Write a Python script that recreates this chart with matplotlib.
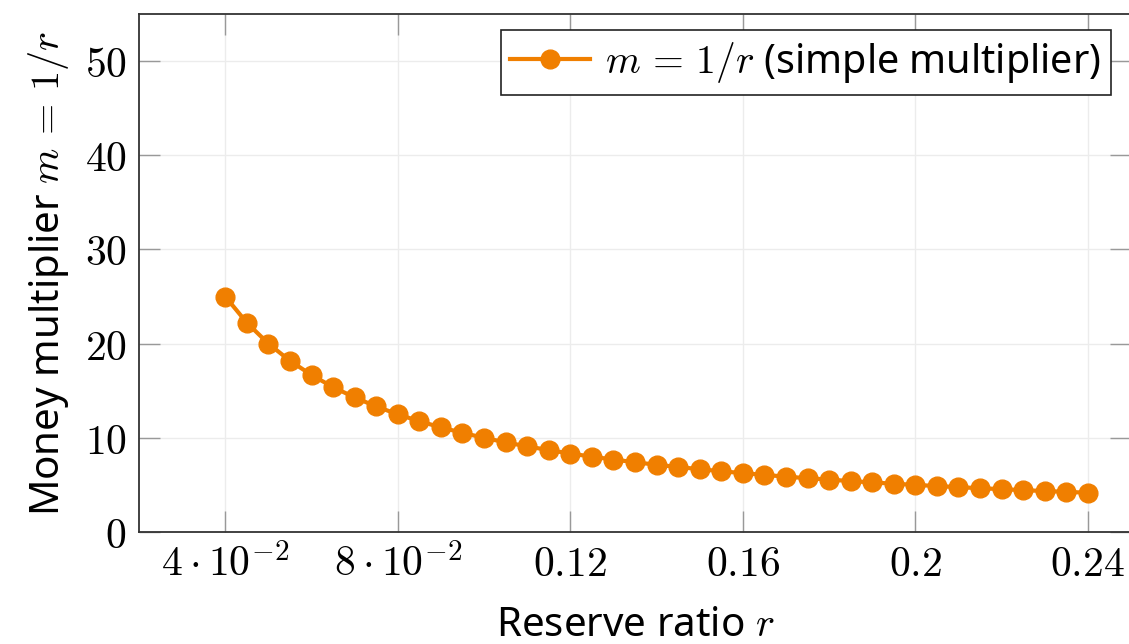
import matplotlib
matplotlib.use("Agg")
import matplotlib.pyplot as plt

plt.rcParams['font.family'] = ['Noto Sans', 'DejaVu Sans']
plt.rcParams['mathtext.fontset'] = 'cm'

# reserve ratio r and multiplier m = 1/r
r = [0.04, 0.045, 0.05, 0.055, 0.06, 0.065, 0.07, 0.075, 0.08, 0.085,
     0.09, 0.095, 0.10, 0.105, 0.11, 0.115, 0.12, 0.125, 0.13, 0.135,
     0.14, 0.145, 0.15, 0.155, 0.16, 0.165, 0.17, 0.175, 0.18, 0.185,
     0.19, 0.195, 0.20, 0.205, 0.21, 0.215, 0.22, 0.225, 0.23, 0.235, 0.24]
m = [25.0, 22.22, 20.0, 18.18, 16.67, 15.38, 14.29, 13.33, 12.5, 11.76,
     11.11, 10.53, 10.0, 9.52, 9.09, 8.7, 8.33, 8.0, 7.69, 7.41,
     7.14, 6.9, 6.67, 6.45, 6.25, 6.06, 5.88, 5.71, 5.56, 5.41,
     5.26, 5.13, 5.0, 4.88, 4.76, 4.65, 4.55, 4.44, 4.35, 4.26, 4.17]

x_ticks = [0.04, 0.08, 0.12, 0.16, 0.20, 0.24]
x_tick_labels = [r"$4\cdot10^{-2}$", r"$8\cdot10^{-2}$", r"$0.12$",
                 r"$0.16$", r"$0.2$", r"$0.24$"]
y_ticks = [0, 10, 20, 30, 40, 50]

orange = '#F07F00'

fig = plt.figure(figsize=(11.29, 6.44), dpi=100)
ax = fig.add_axes([139 / 1129, 112 / 644, (1131 - 139) / 1129, (532 - 14) / 644])

ax.plot(r, m, color=orange, lw=3, marker='o', markersize=13.5,
        label=r"$m\,=\,1/r$ (simple multiplier)")

ax.set_xlim(0.02, 0.25)
ax.set_ylim(0, 55)
ax.set_xticks(x_ticks)
ax.set_xticklabels(x_tick_labels)
ax.set_yticks(y_ticks)
ax.set_yticklabels([f"${v}$" for v in y_ticks])

ax.grid(True, color='#ececec', lw=1)
ax.set_axisbelow(True)
ax.tick_params(direction='in', length=15, width=1, color='#999999',
               labelsize=30, top=True, right=True, pad=9)
for s in ax.spines.values():
    s.set_color('#333333')
    s.set_linewidth(1.3)

ax.set_xlabel(r"Reserve ratio $r$", fontsize=29, labelpad=14)
ax.set_ylabel(r"Money multiplier $m\,=\,1/r$", fontsize=29, labelpad=10)

leg = ax.legend(loc='upper right', bbox_to_anchor=(0.980, 0.969), fontsize=28.5,
                frameon=True, fancybox=False, framealpha=1, edgecolor='#222222',
                handlelength=2.0, borderpad=0.25, handletextpad=0.4,
                borderaxespad=0)
leg.get_frame().set_linewidth(1.2)

fig.savefig("out.png", dpi=100)
